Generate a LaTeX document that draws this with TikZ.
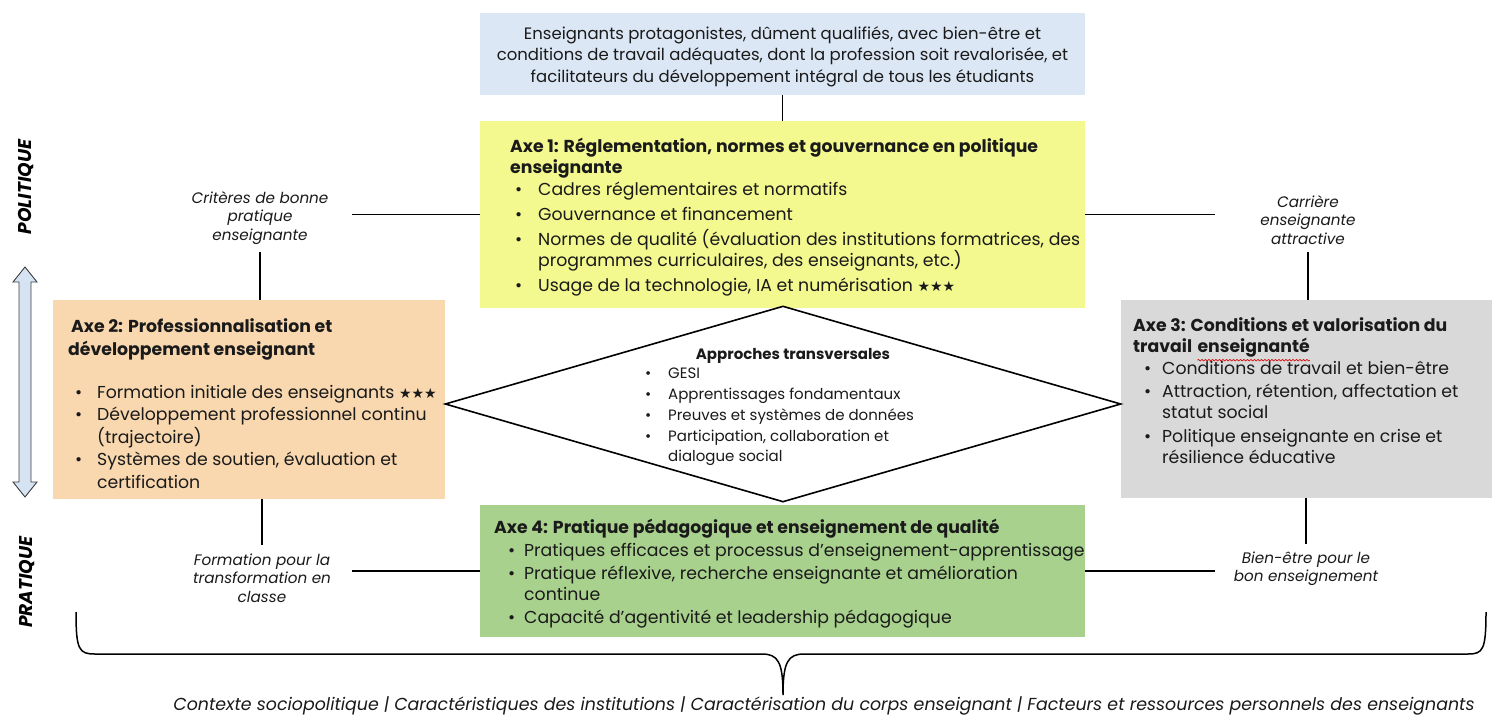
\documentclass[tikz,border=0pt]{standalone}
\usepackage{fontspec}
\setmainfont{Poppins}
\newfontfamily\dejavu{DejaVu Sans}
\usetikzlibrary{shapes.geometric,decorations.pathmorphing}
\definecolor{cblue}{HTML}{DCE7F5}
\definecolor{cyel}{HTML}{F3F98E}
\definecolor{cpeach}{HTML}{F9D8AF}
\definecolor{cgrey}{HTML}{D9D9D9}
\definecolor{cgreen}{HTML}{A9D18E}
\definecolor{carrow}{HTML}{D6E3F3}
\definecolor{ctext}{HTML}{1A1A1A}
\newcommand\fmain{\fontsize{17.3}{21.5}\selectfont}
\newcommand\fmainb{\fontsize{17.3}{22.3}\selectfont}
\newcommand\ftop{\fontsize{16.5}{21.5}\selectfont}
\newcommand\fdia{\fontsize{15}{20.8}\selectfont}
\newcommand\flab{\fontsize{15.2}{18.5}\selectfont\itshape}
\newcommand\bl[1][23pt]{\makebox[#1][l]{\textbullet}}
\newcommand\stars{{\dejavu\fontsize{14}{14}\selectfont ★★★}}
\begin{document}
\begin{tikzpicture}[x=1pt,y=-1pt,
  box/.style={rectangle, draw=none, inner sep=0pt},
  txt/.style={inner sep=0pt, align=left, font=\fmain, text=ctext},
  lab/.style={inner sep=0pt, align=center, font=\flab, text=ctext},
  conn/.style={line width=1.7pt, black}]
\useasboundingbox (0,0) rectangle (1500,718);
\fill[white] (0,0) rectangle (1500,718);

% boxes
\node[box, fill=cblue, minimum width=605pt, minimum height=82pt] (top) at (782.5,54) {};
\node[inner sep=0pt, align=center, font=\ftop, text=ctext] (topt) at (782.5,56.5)
 {Enseignants protagonistes, dûment qualifiés, avec bien-être et\\ conditions de travail adéquates, dont la profession soit revalorisée, et\\ facilitateurs du développement intégral de tous les étudiants};
\node[box, fill=cyel, minimum width=605pt, minimum height=187pt] (ax1) at (782.5,214.5) {};
\node[box, fill=cpeach, minimum width=392pt, minimum height=199pt] (ax2) at (249,399.5) {};
\node[box, fill=cgrey, minimum width=371pt, minimum height=198pt] (ax3) at (1306.5,399) {};
\node[box, fill=cgreen, minimum width=605pt, minimum height=132pt] (ax4) at (782.5,571) {};
\node[diamond, draw, fill=white, line width=1.6pt, minimum width=676pt, minimum height=196pt, inner sep=0pt] (dia) at (783,404) {};

% axe 1 text
\node[txt, anchor=north west] (ax1t) at (510,137) {\strut\textbf{Axe 1: Réglementation, normes et gouvernance en politique}\\
\textbf{enseignante}\\
\hspace*{5pt}\bl Cadres réglementaires et normatifs\\[3.5pt]
\hspace*{5pt}\bl Gouvernance et financement\\[3.5pt]
\hspace*{5pt}\bl Normes de qualité (évaluation des institutions formatrices, des\\
\hspace*{28pt}programmes curriculaires, des enseignants, etc.)\\[3.5pt]
\hspace*{5pt}\bl Usage de la technologie, IA et numérisation \stars};

% axe 2 text
\node[txt, font=\fmainb, anchor=north west] (ax2t) at (68,317) {\strut\textbf{\,Axe 2: Professionnalisation et}\\
\textbf{développement enseignant}\\[21pt]
\hspace*{7pt}\bl[22pt]Formation initiale des enseignants \stars\\
\hspace*{7pt}\bl[22pt]Développement professionnel continu\\
\hspace*{29pt}(trajectoire)\\[0.5pt]
\hspace*{7pt}\bl[22pt]Systèmes de soutien, évaluation et\\
\hspace*{29pt}certification};

% axe 3 text
\node[txt, anchor=north west] (ax3a) at (1133,316) {\strut\textbf{Axe 3: Conditions et valorisation du}};
\node[txt, anchor=north west] (ax3b) at (1133,337) {\strut\textbf{travail}};
\node[txt, anchor=base west] (ax3c) at ([xshift=5pt]ax3b.base east) {\textbf{enseignanté}};
\draw[red!85!black, line width=0.6pt, decorate, decoration={snake, amplitude=0.8pt, segment length=3.5pt}]
  ([yshift=-3pt]ax3c.south west) -- ([yshift=-3pt]ax3c.south east);
\node[txt, anchor=north west] (ax3t) at (1133,359) {\strut\hspace*{11pt}\bl[18pt]Conditions de travail et bien-être\\[1.5pt]
\hspace*{11pt}\bl[18pt]Attraction, rétention, affectation et\\
\hspace*{29pt}statut social\\[2pt]
\hspace*{11pt}\bl[18pt]Politique enseignante en crise et\\
\hspace*{29pt}résilience éducative};

% axe 4 text
\node[txt, anchor=north west] (ax4t) at (494,518) {\strut\textbf{Axe 4: Pratique pédagogique et enseignement de qualité}\\[2pt]
\hspace*{14pt}\bl[16pt]Pratiques efficaces et processus d'enseignement-apprentissage\\[1pt]
\hspace*{14pt}\bl[16pt]Pratique réflexive, recherche enseignante et amélioration\\
\hspace*{30pt}continue\\[1pt]
\hspace*{14pt}\bl[16pt]Capacité d'agentivité et leadership pédagogique};

% diamond text
\node[inner sep=0pt, font=\fdia\bfseries, text=ctext] (diat) at (793,356) {Approches transversales};
\node[txt, font=\fdia, anchor=north west] (diab) at (645,364) {\strut\bl GESI\\
\bl Apprentissages fondamentaux\\
\bl Preuves et systèmes de données\\
\bl Participation, collaboration et\\
\hspace*{23pt}dialogue social};

% side labels
\node[lab] (crit) at (260,218) {Critères de bonne\\ pratique\\ enseignante};
\node[lab] (car) at (1308,220) {Carrière\\ enseignante\\ attractive};
\node[lab] (form) at (262,578) {Formation pour la\\ transformation en\\ classe};
\node[lab] (bien) at (1306,569) {Bien-être pour le\\ bon enseignement};

% connectors
\draw[conn] (top.south) -- (ax1.north);
\coordinate (l1) at ([xshift=-128pt]ax1.west);
\coordinate (r1) at ([xshift=130pt]ax1.east);
\coordinate (l4) at ([xshift=-128pt]ax4.west);
\coordinate (r4) at ([xshift=130pt]ax4.east);
\draw[conn] (l1) -- (ax1.west);
\draw[conn] (ax1.east) -- (r1);
\draw[conn] (l4) -- (ax4.west);
\draw[conn] (ax4.east) -- (r4);
\draw[conn] ([yshift=-7pt]crit.south) -- (crit.south |- ax2.north);
\draw[conn] ([yshift=-7pt]car.south) -- (car.south |- ax3.north);
\draw[conn] (form.north |- ax2.south) -- ([yshift=8pt]form.north);
\draw[conn] (bien.north |- ax3.south) -- ([yshift=8pt]bien.north);

% vertical labels and arrow
\node[rotate=90, inner sep=0pt, font=\fontsize{18.5}{20}\selectfont\bfseries\itshape] (pol) at (26,187) {POLITIQUE};
\node[rotate=90, inner sep=0pt, font=\fontsize{18.5}{20}\selectfont\bfseries\itshape] (pra) at (27,582) {PRATIQUE};
\draw[fill=carrow, draw=black!75, line width=0.9pt, line join=miter]
  (25,267) -- (37,282) -- (31,282) -- (31,482) -- (37,482) -- (25,497) -- (13,482) -- (19,482) -- (19,282) -- (13,282) -- cycle;

% brace and context
\coordinate (bl) at (76,612);
\coordinate (br) at (1486,612);
\coordinate (bt) at (783,695);
\draw[conn, line width=1.5pt] (bl) .. controls (76,650) and (79,654) .. (95,654) -- (762,654)
  .. controls (778,654) and (783,662) .. (bt)
  .. controls (783,662) and (788,654) .. (804,654) -- (1468,654)
  .. controls (1483,654) and (1486,650) .. (br);
\node[inner sep=0pt, font=\fontsize{17.4}{20}\selectfont\itshape, text=ctext] (ctx) at (824,706)
 {Contexte sociopolitique | Caractéristiques des institutions | Caractérisation du corps enseignant | Facteurs et ressources personnels des enseignants};
\end{tikzpicture}
\end{document}
